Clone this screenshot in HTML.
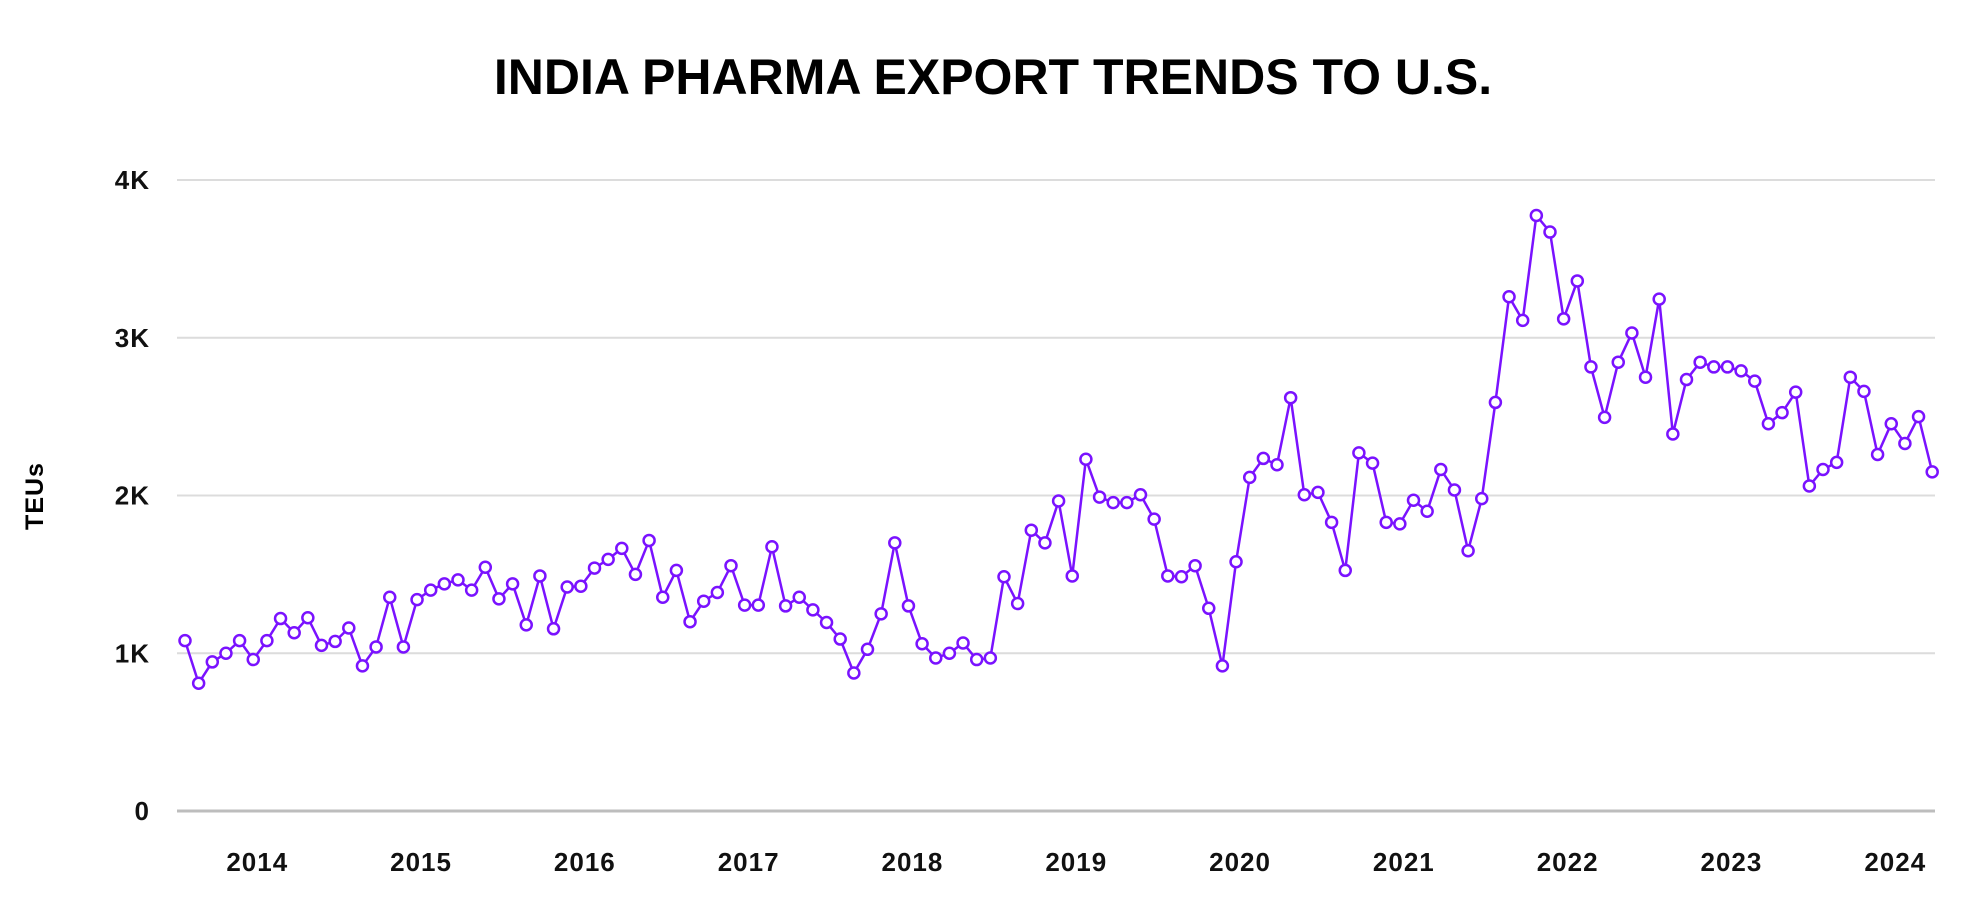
<!DOCTYPE html>
<html><head><meta charset="utf-8"><style>
body{margin:0;background:#fff;}
svg{display:block;font-family:"Liberation Sans",sans-serif;}
</style></head><body>
<svg id="chart" width="1986" height="924" viewBox="0 0 1986 924">
<text x="993" y="94" text-anchor="middle" font-size="50" font-weight="bold" fill="#000">INDIA PHARMA EXPORT TRENDS TO U.S.</text>
<text transform="translate(43,496) rotate(-90)" text-anchor="middle" font-size="25" font-weight="bold" letter-spacing="1">TEUs</text>
<g id="grid"></g><g id="ylabels"></g><g id="xlabels"></g><g id="series"></g>
</svg>
<script>
const values=[1080,810,945,1000,1080,960,1080,1220,1130,1225,1050,1075,1160,920,1040,1355,1040,1340,1400,1440,1465,1400,1545,1345,1440,1180,1490,1155,1420,1425,1540,1595,1665,1500,1715,1355,1525,1200,1330,1385,1555,1305,1305,1675,1300,1355,1275,1195,1090,875,1025,1250,1700,1300,1060,970,1000,1065,960,970,1485,1315,1780,1700,1965,1490,2230,1990,1955,1955,2005,1850,1490,1485,1555,1285,920,1580,2115,2235,2195,2620,2005,2020,1830,1525,2270,2205,1830,1820,1970,1900,2165,2035,1650,1980,2590,3260,3110,3775,3670,3120,3360,2815,2495,2845,3030,2750,3245,2390,2735,2845,2815,2815,2790,2725,2455,2525,2655,2060,2165,2210,2750,2660,2260,2455,2330,2500,2150];
const yTicks=[0,1000,2000,3000,4000];
const yTickLabels=['0','1K','2K','3K','4K'];
const years=[2014,2015,2016,2017,2018,2019,2020,2021,2022,2023,2024];
const startYear=2013, startMonth=7;
const NS='http://www.w3.org/2000/svg';
const X0=185, STEP=13.65, Y0=811, Y4=180;
const x=i=>X0+i*STEP;
const y=v=>Y0-(v/4000)*(Y0-Y4);
function mk(t,a,p){const e=document.createElementNS(NS,t);for(const k in a)e.setAttribute(k,a[k]);p.appendChild(e);return e;}
const grid=document.getElementById('grid'),yl=document.getElementById('ylabels'),xl=document.getElementById('xlabels'),se=document.getElementById('series');
yTicks.forEach((t,i)=>{
  const l=mk('line',{x1:177,x2:1935,y1:y(t),y2:y(t),stroke:t===0?'#bdbdbd':'#dcdcdc','stroke-width':t===0?3:2},grid);
  
  
  const tx=mk('text',{x:150,y:y(t)+9,'text-anchor':'end','font-size':26,'font-weight':'bold','letter-spacing':'1',fill:'#111'},yl);
  tx.textContent=yTickLabels[i];
  
  
});
years.forEach(yr=>{
  const idx=(yr-startYear)*12-startMonth;
  const tx=mk('text',{x:x(idx)+4,y:871,'text-anchor':'middle','font-size':26,'font-weight':'bold','letter-spacing':'1',fill:'#111'},xl);
  tx.textContent=yr;
  
  
});
const pl=mk('polyline',{points:values.map((v,i)=>x(i)+','+y(v)).join(' '),fill:'none',stroke:'#7a12ff','stroke-width':2.5},se);


values.forEach((v,i)=>{
  const c=mk('circle',{cx:x(i),cy:y(v),r:5.5,fill:'#fff',stroke:'#7a12ff','stroke-width':2.5},se);
  
  
});
</script>
</body></html>
